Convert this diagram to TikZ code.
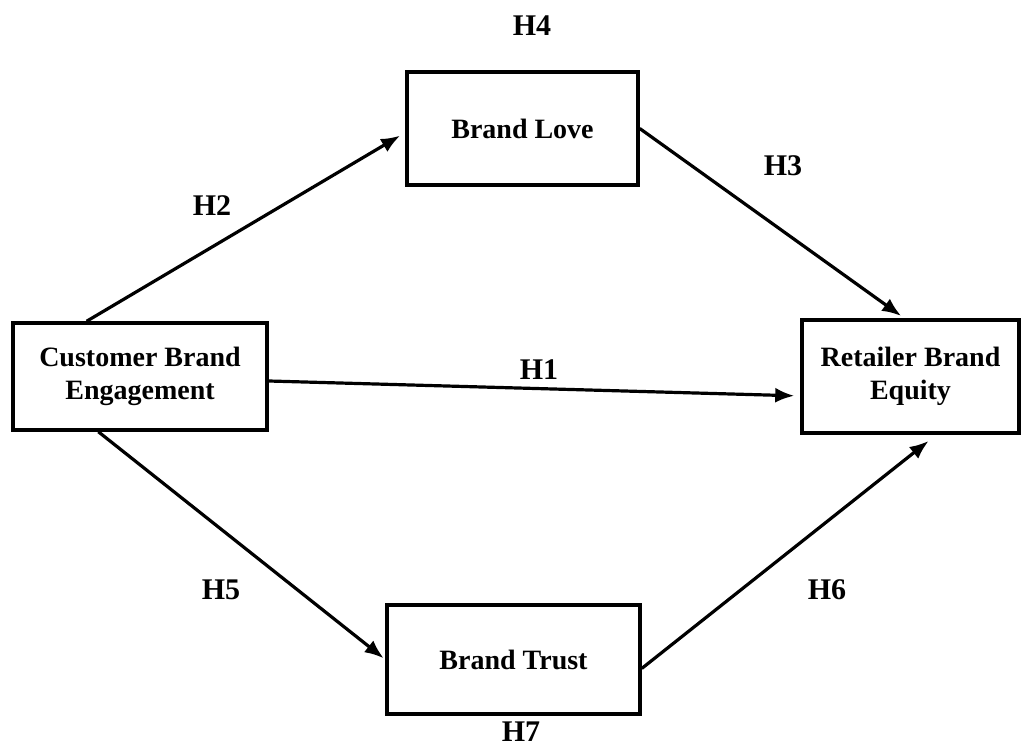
\documentclass[tikz,border=0pt]{standalone}
\usepackage{fontspec}
\setmainfont{Liberation Serif}
\usepackage{tikz}
\usetikzlibrary{arrows.meta}

\tikzset{
  box/.style={rectangle, draw, line width=3.5pt, align=center,
    font=\bfseries\fontsize{28}{33}\selectfont},
  hyp/.style={font=\bfseries\fontsize{30}{32}\selectfont, inner sep=1pt},
  link/.style={line width=3.2pt, -{Latex[length=19pt,width=15pt]}}
}

\begin{document}
\begin{tikzpicture}[x=1pt, y=-1pt]
            \useasboundingbox (0,0) rectangle (1021,747);
            % Nodes
            \node[box, minimum width=254pt, minimum height=107pt] (cbe) at (140,376.5) {Customer Brand\\Engagement};
            \node[box, minimum width=231pt, minimum height=113pt] (bl) at (522.5,128.5) {Brand Love};
            \node[box, minimum width=217pt, minimum height=113pt] (rbe) at (910.5,376.5) {Retailer Brand\\Equity};
            \node[box, minimum width=253pt, minimum height=109pt] (bt) at (513.5,659.5) {Brand Trust};

            % Hypothesis labels
            \node[hyp] (h4) at (532,26) {H4};
            \node[hyp] (h2) at (212,206) {H2};
            \node[hyp] (h3) at (783,166) {H3};
            \node[hyp] (h1) at (539,370) {H1};
            \node[hyp] (h5) at (221,590) {H5};
            \node[hyp] (h6) at (827,590) {H6};
            \node[hyp] (h7) at (521,732) {H7};

            % Edges
            \draw[link, shorten >=6pt] (cbe.134) -- (bl.182);
            \draw[link, shorten >=4pt] (bl.east) -- (rbe.96);
            \draw[link, shorten >=6pt] (cbe.-2.5) -- (rbe.190);
            \draw[link, shorten >=2pt] (cbe.233) -- (bt.west);
            \draw[link, shorten >=10pt] (bt.-4) -- (rbe.-66);
        \end{tikzpicture}
\end{document}
